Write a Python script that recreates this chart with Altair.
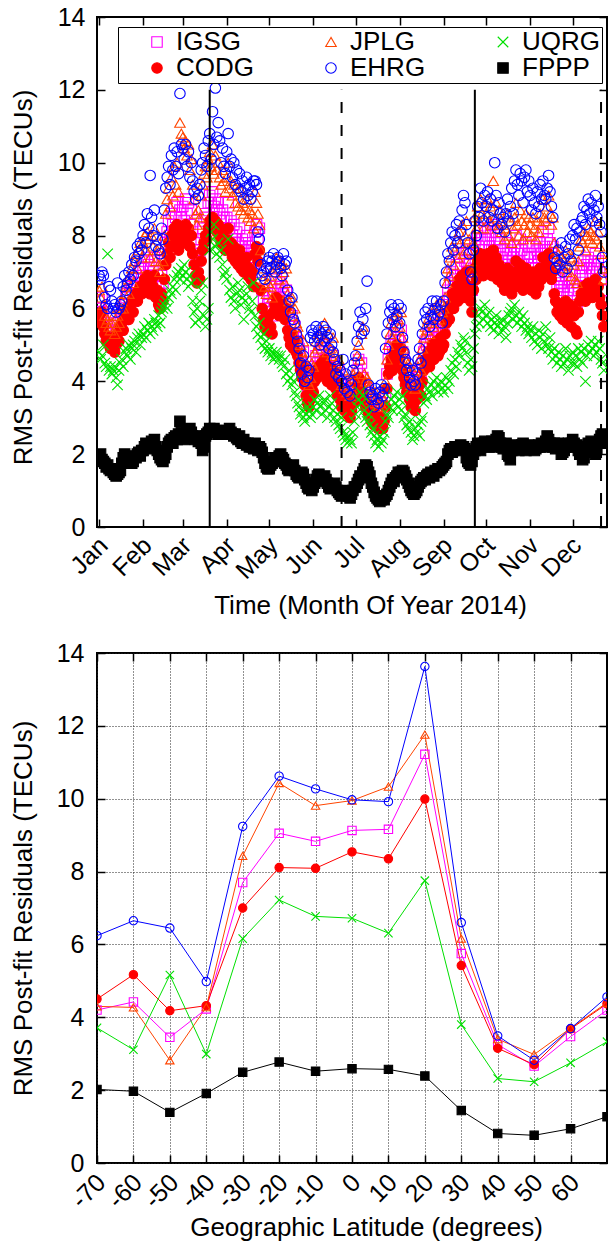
import altair as alt
import pandas as pd

FONT = "Liberation Sans"

# ---------------- top panel: daily RMS post-fit residuals, 2014 ----------------
month_names = ["Jan", "Feb", "Mar", "Apr", "May", "Jun", "Jul", "Aug", "Sep", "Oct", "Nov", "Dec"]
month_start = [0, 31, 59, 90, 120, 151, 181, 212, 243, 273, 304, 334]
equinox_days = [78, 265]
solstice_days = [171, 354]

igsg = [
    6.2,6.0,6.3,5.9,5.6,5.4,5.5,5.3,5.2,5.4,5.6,5.1,5.3,5.6,5.4,5.8,5.9,5.7,6.1,6.3,6.4,6.0,6.5,6.6,6.2,6.7,6.9,6.6,7.0,7.1,6.8,
    7.1,7.3,6.9,7.4,7.2,6.8,7.3,7.0,7.4,6.7,6.9,6.6,6.4,6.9,6.7,7.3,7.8,8.1,8.4,8.0,8.6,8.3,8.8,8.5,8.9,8.2,8.7,8.5,
    8.8,8.4,9.0,8.6,8.9,8.3,8.7,8.1,7.8,7.5,7.3,7.6,7.4,7.9,8.2,8.4,8.6,8.5,8.9,9.1,8.9,9.2,8.8,9.0,8.7,8.9,8.6,8.4,8.7,8.5,8.2,
    8.5,8.9,8.2,8.4,8.0,8.3,7.9,8.1,7.8,8.2,7.7,7.9,7.6,7.8,8.0,7.5,7.7,7.4,7.6,7.2,8.1,8.3,7.9,8.2,7.0,6.5,6.2,6.0,5.9,6.1,
    6.3,6.0,5.8,6.4,6.6,6.8,6.5,6.3,6.7,6.6,6.4,6.2,6.5,5.9,5.7,5.5,5.8,5.3,5.5,5.2,5.1,4.9,4.7,4.5,4.8,4.3,4.0,3.8,3.7,3.9,4.2,
    4.1,4.4,4.7,4.5,4.8,4.6,4.9,4.7,5.0,4.6,4.4,4.8,4.5,4.3,4.7,4.4,4.2,4.0,4.3,3.9,3.7,4.0,3.6,3.8,3.5,3.7,3.4,3.6,3.9,3.8,
    4.0,4.3,4.6,4.2,4.5,4.1,3.9,3.7,3.8,3.5,3.6,3.3,3.4,3.2,3.5,3.3,3.1,3.2,3.4,3.1,3.3,3.7,4.2,4.6,4.9,5.1,4.8,5.3,5.0,5.5,5.2,
    5.1,5.4,4.8,4.6,4.3,4.1,4.2,3.9,3.7,4.0,3.8,3.6,3.9,4.1,4.3,4.0,4.5,4.8,5.1,5.0,5.3,4.9,5.2,5.5,5.1,5.4,5.6,5.2,5.3,5.7,5.4,
    5.5,5.8,6.1,6.5,6.3,6.7,7.0,6.6,6.9,7.2,6.8,7.4,7.1,7.5,6.9,7.3,7.6,7.0,7.2,6.8,6.5,7.1,7.8,7.5,8.0,7.7,8.2,7.9,7.6,8.1,
    7.9,8.2,7.7,8.0,7.6,8.3,7.8,8.1,7.5,7.9,7.7,7.4,7.6,7.2,7.5,7.8,7.3,7.6,7.1,7.4,7.7,8.0,7.5,7.3,7.9,7.6,7.2,7.5,7.8,7.4,7.7,
    7.5,7.2,7.7,7.4,7.1,7.6,7.3,7.8,7.5,8.1,7.7,7.6,7.9,8.2,7.8,7.5,7.7,7.1,6.9,6.6,6.8,6.5,6.7,6.4,6.6,6.9,6.3,6.5,6.8,6.2,
    6.7,6.5,6.1,6.0,6.6,6.9,7.1,7.0,7.3,6.9,7.2,7.4,7.1,7.3,7.0,7.2,7.5,7.1,7.3,7.0,6.8,6.5,6.2,6.4,5.9,6.1,6.3,5.8,6.0,6.2,5.9,
]
codg = [
    5.8,5.6,5.9,5.5,5.3,5.1,5.2,5.0,4.9,5.1,5.2,4.8,5.0,5.3,5.1,5.5,5.6,5.4,5.8,5.9,6.0,5.7,6.1,6.2,5.9,6.3,6.4,6.2,6.5,6.6,6.4,
    6.6,6.8,6.5,6.9,6.7,6.4,6.8,6.6,6.9,6.3,6.5,6.1,6.0,6.4,6.2,6.8,7.2,7.5,7.8,7.4,8.0,7.7,8.2,7.9,8.3,7.6,8.0,7.8,
    8.1,7.8,8.3,7.9,8.2,7.7,8.0,7.5,7.2,6.9,6.7,7.0,6.8,7.3,7.6,7.8,8.0,7.9,8.2,8.4,8.3,8.5,8.2,8.4,8.1,8.3,8.0,7.8,8.1,7.9,7.6,
    7.9,8.2,7.6,7.8,7.4,7.7,7.3,7.5,7.2,7.6,7.1,7.3,7.0,7.2,7.4,6.9,7.1,6.8,7.0,6.6,7.5,7.7,7.3,7.6,6.5,6.0,5.7,5.5,5.4,5.6,
    5.8,5.5,5.3,5.9,6.1,6.3,6.0,5.8,6.2,6.1,5.9,5.7,6.0,5.4,5.2,5.0,5.3,4.9,5.1,4.8,4.7,4.5,4.3,4.1,4.4,3.9,3.6,3.4,3.3,3.5,3.8,
    3.7,4.0,4.3,4.1,4.4,4.2,4.5,4.3,4.6,4.2,4.0,4.4,4.1,3.9,4.3,4.0,3.8,3.6,3.9,3.5,3.3,3.6,3.2,3.4,3.1,3.3,3.0,3.2,3.5,3.4,
    3.6,3.9,4.1,3.8,4.0,3.7,3.5,3.3,3.4,3.1,3.2,2.9,3.0,2.8,3.1,2.9,2.7,2.8,3.0,2.7,2.9,3.3,3.8,4.2,4.4,4.6,4.3,4.8,4.5,5.0,4.7,
    4.6,4.9,4.3,4.1,3.9,3.7,3.8,3.5,3.3,3.6,3.4,3.2,3.5,3.7,3.9,3.6,4.0,4.3,4.6,4.5,4.8,4.4,4.7,5.0,4.6,4.9,5.1,4.7,4.8,5.2,4.9,
    5.0,5.3,5.6,5.9,5.7,6.1,6.4,6.0,6.3,6.6,6.2,6.8,6.5,6.9,6.3,6.7,7.0,6.4,6.6,6.2,5.9,6.5,7.1,6.8,7.3,7.0,7.5,7.2,6.9,7.4,
    7.2,7.5,7.0,7.3,6.9,7.6,7.1,7.4,6.8,7.2,7.0,6.7,6.9,6.5,6.8,7.1,6.6,6.9,6.4,6.7,7.0,7.3,6.8,6.6,7.2,6.9,6.5,6.8,7.1,6.7,7.0,
    6.8,6.5,7.0,6.7,6.4,6.9,6.6,7.1,6.8,7.4,7.0,6.9,7.2,7.5,7.1,6.8,7.0,6.4,6.2,5.9,6.1,5.8,6.0,5.7,5.9,6.2,5.6,5.8,6.1,5.5,
    6.0,5.8,5.4,5.3,5.9,6.2,6.4,6.3,6.6,6.2,6.5,6.7,6.4,6.6,6.3,6.5,6.8,6.4,6.6,6.3,6.1,5.8,5.5,5.7,5.2,5.4,5.6,5.1,5.3,5.5,5.2,
]
jplg = [
    6.5,6.3,6.6,6.1,5.8,5.6,5.7,5.5,5.4,5.6,5.8,5.3,5.5,5.8,5.6,6.0,6.2,6.0,6.4,6.6,6.8,6.4,6.9,7.1,6.7,7.3,7.5,7.1,7.6,7.8,7.4,
    7.8,8.0,7.6,8.1,7.9,7.4,8.0,7.7,8.2,7.3,7.6,7.2,7.0,7.6,7.3,8.0,8.6,9.0,9.3,8.8,9.6,9.1,9.9,9.4,10.0,9.2,11.1,10.8,
    10.7,10.4,10.6,10.2,10.5,9.8,10.1,9.4,9.0,8.6,8.3,8.7,8.5,9.1,9.4,9.7,9.9,9.6,10.1,10.3,9.9,10.5,9.7,10.2,9.8,10.0,9.6,9.4,9.8,9.5,9.2,
    9.6,10.0,9.3,9.5,9.1,9.4,8.9,9.2,8.8,9.3,8.7,8.9,8.6,8.8,9.0,8.5,8.7,8.4,8.6,8.2,9.2,8.9,8.6,8.3,7.6,7.1,6.8,6.6,6.4,6.7,
    6.9,6.6,6.3,7.0,7.2,7.4,7.1,6.8,7.3,7.2,7.0,6.7,7.1,6.4,6.2,6.0,6.3,5.8,6.0,5.6,5.5,5.3,5.0,4.8,5.1,4.6,4.2,4.0,3.9,4.1,4.5,
    4.4,4.8,5.1,4.9,5.3,5.0,5.4,5.2,5.6,5.1,4.8,5.3,4.9,4.7,5.2,4.8,4.5,4.3,4.6,4.2,3.9,4.3,3.8,4.0,3.7,3.9,3.6,3.8,4.2,4.1,
    4.3,4.7,5.0,4.6,5.3,5.5,4.2,4.0,4.1,3.8,3.9,3.5,3.6,3.4,3.7,3.5,3.3,3.4,3.6,3.3,3.5,4.0,4.6,5.0,5.3,5.6,5.2,5.8,5.4,5.9,5.7,
    5.5,5.9,5.2,4.9,4.6,4.4,4.5,4.2,3.9,4.3,4.0,3.8,4.1,4.4,4.6,4.3,4.9,5.2,5.5,5.4,5.7,5.3,5.6,6.0,5.5,5.8,6.1,5.6,5.7,6.2,5.9,
    6.0,6.3,6.7,7.1,6.9,7.4,7.7,7.2,7.6,7.9,7.4,8.1,7.8,8.3,7.5,8.0,8.4,7.6,7.9,7.3,7.0,7.8,8.5,8.2,8.8,8.4,9.0,8.6,8.2,8.9,
    8.6,9.0,8.4,8.8,8.3,9.5,8.5,8.9,8.2,8.7,8.4,8.1,8.3,7.9,8.2,8.6,8.0,8.4,7.8,8.2,8.5,8.9,8.3,8.0,8.7,8.4,7.9,8.3,8.6,8.1,8.5,
    8.3,8.0,8.5,8.2,7.9,8.4,8.1,8.6,8.3,9.0,8.5,8.4,8.8,9.1,8.6,8.3,8.5,7.8,7.6,7.3,7.5,7.2,7.4,7.1,7.3,7.6,7.0,7.2,7.5,6.9,
    7.4,7.2,6.8,6.7,7.3,7.7,7.9,7.8,8.1,7.6,8.0,8.2,7.9,8.1,7.8,8.0,8.4,7.9,8.1,7.7,7.5,7.1,6.8,7.0,6.5,6.7,6.9,6.3,6.6,6.8,6.5,
]
ehrg = [
    6.9,6.8,7.0,6.9,6.3,6.1,6.0,6.6,6.5,6.2,6.0,6.1,5.9,6.7,6.0,6.1,6.2,6.6,6.9,6.5,6.7,7.0,6.8,7.2,6.9,7.4,7.3,7.7,7.5,7.8,7.6,
    8.0,8.3,7.8,8.6,8.2,9.65,8.5,8.0,8.7,7.7,7.9,7.6,7.5,8.2,7.9,8.7,9.3,9.6,9.9,9.4,10.2,9.8,10.4,9.9,10.3,9.7,11.9,10.5,
    10.4,10.1,10.5,9.9,10.3,9.6,10.0,9.5,9.2,9.0,9.3,9.1,9.4,9.8,10.0,10.4,10.2,9.9,10.6,10.8,10.1,11.4,10.5,12.05,10.7,11.1,10.6,10.0,10.4,9.9,9.7,
    10.3,10.8,9.9,10.1,9.6,10.0,9.4,9.8,9.3,9.7,9.2,9.5,9.0,9.3,9.6,9.1,9.4,9.0,9.2,9.5,9.5,9.4,8.1,7.9,7.2,6.9,7.0,6.8,7.1,7.3,
    7.4,7.1,7.3,7.5,7.0,7.2,7.4,7.3,7.1,6.9,7.5,7.2,7.3,6.5,6.2,5.9,6.3,5.7,5.6,5.3,5.1,4.9,4.5,4.2,4.7,4.0,4.4,4.1,4.3,5.2,5.4,
    5.3,5.1,5.5,5.2,5.4,5.0,5.3,5.5,5.1,5.4,5.2,4.9,5.3,5.0,4.8,4.6,4.2,4.4,4.1,4.3,4.0,4.6,3.8,4.2,3.7,4.0,3.6,3.9,4.3,4.5,
    4.7,5.1,5.5,5.9,5.3,5.7,5.4,6.0,6.75,3.9,3.7,3.5,3.6,3.3,3.8,3.5,3.4,3.7,3.9,3.6,3.8,4.9,5.3,5.6,5.9,6.1,5.7,6.0,5.5,5.8,6.1,
    5.6,6.0,5.2,4.8,4.6,4.3,4.5,4.1,3.9,4.3,4.0,3.9,4.2,4.6,4.9,4.5,5.3,5.6,5.9,5.7,6.0,5.5,5.8,6.2,5.7,6.0,6.2,5.8,5.9,6.1,5.6,
    6.2,6.7,7.0,7.5,7.3,7.8,8.1,7.6,8.0,8.3,7.8,8.4,8.1,8.7,9.1,8.9,8.3,7.8,7.5,7.0,6.8,7.6,8.4,8.0,8.8,8.5,9.3,8.9,8.4,9.1,
    8.8,9.2,8.5,9.0,8.4,8.7,10.0,9.1,8.2,8.9,8.6,8.3,8.5,8.1,8.6,9.0,8.4,8.8,9.3,8.6,9.5,9.8,9.4,9.1,9.7,9.5,8.9,9.6,9.8,9.2,9.5,
    9.1,8.7,9.3,8.9,8.6,9.2,8.8,9.4,9.0,9.5,9.1,9.0,9.3,9.65,9.2,8.8,8.5,7.4,7.1,7.3,7.6,7.2,7.8,7.0,7.4,7.7,7.1,7.5,7.9,7.3,
    8.0,8.3,7.9,8.2,7.6,8.1,8.4,8.5,8.8,8.3,8.7,9.0,8.6,8.9,8.4,8.7,9.1,8.5,8.8,8.3,8.1,7.4,7.0,7.2,6.6,6.9,7.3,6.4,6.8,7.1,6.5,
]
uqrg = [
    4.8,4.6,4.7,5.0,4.5,4.4,7.5,4.3,4.4,4.2,4.3,4.4,4.1,3.9,4.3,4.5,4.6,4.4,4.8,4.9,4.7,5.0,4.6,4.9,5.0,5.1,4.8,5.2,5.3,5.0,5.2,
    5.3,5.5,5.2,5.4,5.6,5.3,5.5,5.4,5.7,5.6,5.5,5.8,5.6,5.9,6.0,6.1,6.2,6.0,6.3,6.5,6.4,6.6,6.8,6.5,6.9,7.0,6.8,7.1,
    6.9,7.2,7.0,6.8,6.6,6.9,6.7,6.2,5.9,5.6,6.0,5.7,6.2,6.5,6.7,5.8,5.5,5.7,6.0,7.6,8.1,7.9,8.3,7.7,7.5,7.8,7.4,7.6,7.2,6.9,7.0,
    6.8,7.9,6.5,6.3,6.6,6.2,6.0,6.4,6.7,6.5,6.1,6.3,5.7,6.2,6.4,6.6,6.0,5.9,6.2,6.7,5.8,5.5,5.3,5.6,5.2,5.0,5.3,4.9,5.1,4.8,
    4.9,4.7,4.8,4.6,4.7,4.8,4.7,4.6,4.7,4.5,4.4,4.6,4.2,4.0,4.3,4.1,3.9,4.0,3.7,3.6,3.4,3.3,3.1,3.2,3.0,2.9,3.1,3.3,3.2,3.0,3.1,
    3.3,3.5,3.2,3.4,3.6,3.3,3.1,3.4,3.5,3.2,3.0,3.3,3.6,3.4,3.2,3.0,2.9,3.1,2.8,2.7,3.0,2.6,2.5,2.4,2.3,2.5,2.4,2.3,2.6,2.9,
    3.1,3.3,3.5,3.7,3.4,3.6,3.2,3.0,2.9,3.1,2.8,2.6,2.7,2.5,2.3,2.4,2.2,2.5,2.3,2.4,2.6,2.9,3.1,3.0,3.3,3.5,3.2,3.6,3.4,3.7,3.3,
    3.5,3.2,3.6,3.0,3.1,2.8,2.7,2.9,2.6,2.4,2.5,2.7,2.6,2.8,2.5,2.9,3.0,3.4,3.6,3.5,3.8,3.7,3.9,3.6,4.0,3.8,4.1,3.7,3.9,4.0,3.8,
    3.7,3.9,4.1,3.8,4.0,4.3,4.5,4.2,4.6,4.4,4.8,4.7,5.0,4.9,5.2,5.1,4.8,4.5,4.3,4.6,4.4,4.9,5.3,5.5,5.8,5.6,6.0,5.9,5.7,6.1,
    5.8,5.6,5.9,5.5,5.7,5.4,5.6,5.8,5.5,5.3,5.6,5.7,5.4,5.5,5.2,5.6,5.8,5.9,6.0,5.7,6.1,5.8,5.6,5.9,5.7,5.5,5.8,5.6,5.4,5.5,5.3,
    5.4,5.2,5.5,5.1,5.3,5.0,5.4,5.2,4.9,5.3,5.1,5.5,5.0,4.9,5.2,4.8,4.6,4.9,4.7,4.5,4.8,4.6,4.4,4.7,4.5,4.9,4.6,4.3,4.7,4.5,
    4.8,4.5,4.7,4.4,4.9,4.6,4.8,4.5,4.9,4.0,4.7,5.0,4.8,5.1,4.9,4.7,5.0,4.8,5.1,4.9,4.6,4.5,4.3,4.2,4.4,4.1,4.3,4.5,4.2,4.4,4.3,
]
fppp = [
    1.9,2.0,1.85,1.8,1.75,1.65,1.7,1.6,1.55,1.6,1.5,1.45,1.4,1.45,1.5,1.55,1.75,1.9,2.0,1.85,1.8,1.9,1.85,1.75,1.8,1.95,1.9,2.0,2.05,1.95,2.1,
    2.1,2.2,2.3,2.15,2.2,2.25,2.35,2.3,2.4,2.2,2.1,2.0,1.9,1.85,1.8,1.9,2.0,2.2,2.3,2.35,2.4,2.3,2.45,2.5,2.4,2.55,2.9,2.6,
    2.5,2.4,2.45,2.6,2.55,2.7,2.6,2.5,2.45,2.4,2.5,2.35,2.4,2.3,2.1,2.2,2.5,2.55,2.6,2.7,2.65,2.6,2.7,2.65,2.6,2.55,2.6,2.65,2.6,2.6,2.55,
    2.65,2.6,2.7,2.6,2.55,2.5,2.55,2.45,2.4,2.5,2.35,2.3,2.4,2.3,2.25,2.3,2.2,2.25,2.2,2.15,2.3,2.2,2.1,2.2,2.15,2.05,1.9,1.75,1.65,1.6,
    1.6,1.7,1.75,1.8,1.9,1.85,1.8,1.95,2.0,1.9,1.85,1.75,1.7,1.6,1.55,1.6,1.65,1.7,1.55,1.45,1.4,1.35,1.4,1.5,1.45,1.3,1.2,1.1,1.05,1.1,1.0,
    1.1,1.2,1.3,1.4,1.45,1.35,1.3,1.25,1.4,1.3,1.2,1.1,1.05,1.1,1.15,1.2,1.1,1.0,0.95,0.9,0.85,0.9,0.95,1.0,0.9,0.85,0.8,0.9,1.0,1.1,
    1.1,1.2,1.3,1.4,1.35,1.5,1.6,1.7,1.65,1.5,1.4,1.2,1.1,0.95,0.85,0.8,0.75,0.7,0.75,0.8,0.75,0.85,0.9,1.0,1.1,1.2,1.3,1.25,1.35,1.4,1.5,
    1.45,1.5,1.55,1.5,1.4,1.3,1.2,1.1,1.0,0.95,0.9,0.95,1.0,1.1,1.2,1.25,1.3,1.35,1.3,1.4,1.45,1.35,1.5,1.45,1.4,1.55,1.5,1.6,1.55,1.6,1.65,
    1.7,1.75,1.8,2.0,2.1,2.15,2.05,2.1,2.2,2.15,2.1,2.2,2.25,2.2,2.2,2.15,1.9,1.8,1.75,1.7,1.8,2.0,2.1,2.2,2.3,2.2,2.1,2.2,2.3,2.35,
    2.3,2.25,2.2,2.3,2.35,2.2,2.3,2.4,2.5,2.45,2.3,2.2,2.15,2.2,2.3,2.0,1.95,1.85,2.1,2.2,2.25,2.2,2.15,2.1,2.2,2.25,2.3,2.2,2.1,2.2,2.25,
    2.2,2.15,2.2,2.1,2.15,2.2,2.25,2.2,2.3,2.25,2.2,2.35,2.5,2.4,2.3,2.25,2.2,2.3,2.15,2.2,2.3,2.2,2.0,2.05,2.1,2.2,2.25,2.3,2.2,2.3,
    2.4,2.3,2.2,2.25,2.1,2.0,2.15,1.85,1.9,2.05,2.2,2.3,2.25,2.35,2.2,2.1,2.0,2.15,2.3,2.4,2.5,2.55,2.3,2.2,2.0,1.8,1.75,1.9,2.0,2.1,2.2,
]

# ---------------- bottom panel: RMS by geographic latitude ----------------
lats = [-70, -60, -50, -40, -30, -20, -10, 0, 10, 20, 30, 40, 50, 60, 70]
lat_ticks = [-70, -60, -50, -40, -30, -20, -10, 0, 10, 20, 30, 40, 50, 60]
igsg_lat = [4.2, 4.42, 3.45, 4.23, 7.7, 9.05, 8.83, 9.13, 9.16, 11.22, 5.75, 3.25, 2.66, 3.47, 4.2]
codg_lat = [4.5, 5.17, 4.18, 4.32, 7.0, 8.11, 8.09, 8.54, 8.35, 9.99, 5.42, 3.15, 2.7, 3.68, 4.37]
jplg_lat = [4.3, 4.27, 2.82, 4.28, 8.43, 10.43, 9.81, 9.95, 10.33, 11.76, 6.16, 3.4, 2.98, 3.7, 4.4]
ehrg_lat = [6.24, 6.65, 6.45, 4.98, 9.24, 10.62, 10.27, 9.97, 9.92, 13.63, 6.6, 3.49, 2.82, 3.69, 4.56]
uqrg_lat = [3.71, 3.11, 5.16, 2.99, 6.16, 7.22, 6.77, 6.72, 6.31, 7.75, 3.8, 2.32, 2.23, 2.75, 3.33]
fppp_lat = [2.02, 1.97, 1.39, 1.91, 2.49, 2.77, 2.52, 2.59, 2.57, 2.39, 1.44, 0.81, 0.76, 0.94, 1.27]

series_names = ["IGSG", "CODG", "JPLG", "EHRG", "UQRG", "FPPP"]
series_colors = ["#FF00FF", "#FF0000", "#FF4500", "#0000FF", "#00E000", "#000000"]
series_fills = ["transparent", "#FF0000", "transparent", "transparent", "transparent", "#000000"]
series_shapes = ["square", "circle", "triangle-up", "circle", "M-1,-1L1,1M-1,1L1,-1", "square"]
y_ticks = [0, 2, 4, 6, 8, 10, 12, 14]

top_rows = []
for name, vals in zip(series_names, [igsg, codg, jplg, ehrg, uqrg, fppp]):
    for i, v in enumerate(vals):
        top_rows.append({"day": i, "rms": v, "series": name})
df_top = pd.DataFrame(top_rows)

lat_rows = []
for name, vals in zip(series_names, [igsg_lat, codg_lat, jplg_lat, ehrg_lat, uqrg_lat, fppp_lat]):
    for la, v in zip(lats, vals):
        lat_rows.append({"lat": la, "rms": v, "series": name})
df_lat = pd.DataFrame(lat_rows)

shape_sc = alt.Scale(domain=series_names, range=series_shapes)
stroke_sc = alt.Scale(domain=series_names, range=series_colors)
fill_sc = alt.Scale(domain=series_names, range=series_fills)
y_sc = alt.Scale(domain=[0, 14], nice=False, zero=True)

H = 510
W_TOP = 510
W_BOT = 510
TICK = 8
NBSP = "\u00a0"
X_END_DAY = 358.2          # right edge of the visible time window (px per day as in the original)
LAST_SHOWN_DAY = 356       # the days after this fall at / beyond the cropped right edge

df_top_vis = df_top[df_top.day <= LAST_SHOWN_DAY]


def tick_layers(data, xfield, x_sc, xvals, w):
    """Invisible layers that only carry inward-pointing tick marks on all four sides."""
    def ax(orient, off, vals):
        return alt.Axis(orient=orient, offset=off, values=vals, labels=False, domain=False,
                        grid=False, ticks=True, tickSize=TICK, tickWidth=1.5,
                        tickColor="black", title=None)
    l1 = alt.Chart(data).mark_point(opacity=0).encode(
        x=alt.X(xfield, scale=x_sc, axis=ax("top", -H, xvals)),
        y=alt.Y("rms:Q", scale=y_sc, axis=ax("right", -w, y_ticks)),
    )
    l2 = alt.Chart(data).mark_point(opacity=0).encode(
        x=alt.X(xfield, scale=x_sc, axis=ax("bottom", -H, xvals)),
        y=alt.Y("rms:Q", scale=y_sc, axis=ax("left", -w, y_ticks)),
    )
    return [l1, l2]


# ---------- top ----------
x_top = alt.Scale(domain=[-1.5, X_END_DAY], nice=False, zero=False)
month_expr = f"{month_names}[indexof({month_start}, datum.value)]"
last_col = series_names[4:]
legend_label_expr = (f"datum.label + (indexof({last_col}, datum.label) >= 0 ? '"
                     + NBSP * 6 + "' : '')")

leg = alt.Legend(
    title=None, orient="none", legendX=21, legendY=10, direction="vertical", columns=3,
    columnPadding=40, rowPadding=0, padding=2, strokeColor="black", fillColor="white",
    labelFont=FONT, labelFontSize=26, labelColor="black", labelAlign="left", labelOffset=6,
    labelExpr=legend_label_expr,
    symbolOffset=24, symbolSize=110, symbolStrokeWidth=1.1, cornerRadius=0,
)

top_points = alt.Chart(df_top_vis).mark_point(size=110, strokeWidth=1.1, opacity=1, clip=True).encode(
    x=alt.X("day:Q", scale=x_top, axis=alt.Axis(
        orient="bottom", values=month_start, labelExpr=month_expr, labelAngle=315,
        labelAlign="right", labelBaseline="middle", labelPadding=14, labelOffset=4,
        ticks=False, tickSize=0, domain=False, grid=False, labelFlush=False, labelOverlap=False,
        title="Time (Month Of Year 2014)", titleX=273, titleY=86, titleBaseline="alphabetic",
        titleAlign="center")),
    y=alt.Y("rms:Q", scale=y_sc, axis=alt.Axis(
        orient="left", values=y_ticks, ticks=False, tickSize=0, domain=False, grid=False,
        labelPadding=12, labelFlush=False, labelOverlap=False,
        title="RMS Post-fit Residuals (TECUs)", titleAngle=270, titleX=-66, titleY=260,
        titleBaseline="alphabetic", titleAlign="center")),
    shape=alt.Shape("series:N", scale=shape_sc, legend=leg),
    stroke=alt.Stroke("series:N", scale=stroke_sc, legend=leg),
    fill=alt.Fill("series:N", scale=fill_sc, legend=leg),
)

eq_rules = alt.Chart(pd.DataFrame({"day": equinox_days})).mark_rule(color="black", strokeWidth=2).encode(
    x=alt.X("day:Q", scale=x_top, axis=None),
    y=alt.YDatum(0, axis=None), y2=alt.Y2Datum(12),
)
sol_rules = alt.Chart(pd.DataFrame({"day": solstice_days})).mark_rule(
    color="black", strokeWidth=2, strokeDash=[11, 12]).encode(
    x=alt.X("day:Q", scale=x_top, axis=None),
    y=alt.YDatum(0, axis=None), y2=alt.Y2Datum(12),
)

top = alt.layer(
    top_points, eq_rules, sol_rules,
    *tick_layers(df_top_vis[df_top_vis.series == "FPPP"], "day:Q", x_top, month_start, W_TOP),
).resolve_axis(x="independent", y="independent").properties(width=W_TOP, height=H)

# ---------- bottom ----------
x_lat = alt.Scale(domain=[lats[0], lats[-1]], nice=False, zero=False)

lat_lines = alt.Chart(df_lat).mark_line(strokeWidth=1, clip=True).encode(
    x=alt.X("lat:Q", scale=x_lat, axis=alt.Axis(
        orient="bottom", values=lat_ticks, labelExpr="'' + datum.value", labelAngle=315,
        labelAlign="right", labelBaseline="middle", labelPadding=15, labelOffset=4,
        ticks=False, tickSize=0, domain=False, grid=True, gridDash=[1, 2], gridColor="#222222",
        gridWidth=1, labelFlush=False, labelOverlap=False,
        title="Geographic Latitude (degrees)", titleX=269, titleY=72, titleBaseline="alphabetic",
        titleAlign="center")),
    y=alt.Y("rms:Q", scale=y_sc, axis=alt.Axis(
        orient="left", values=y_ticks, ticks=False, tickSize=0, domain=False, grid=True,
        gridDash=[1, 2], gridColor="#222222", gridWidth=1,
        labelPadding=13, labelFlush=False, labelOverlap=False,
        title="RMS Post-fit Residuals (TECUs)", titleAngle=270, titleX=-66, titleY=255,
        titleBaseline="alphabetic", titleAlign="center")),
    stroke=alt.Stroke("series:N", scale=stroke_sc, legend=None),
    detail="series:N",
)
lat_points = alt.Chart(df_lat).mark_point(size=70, strokeWidth=1.1, opacity=1, clip=True).encode(
    x=alt.X("lat:Q", scale=x_lat, axis=None),
    y=alt.Y("rms:Q", scale=y_sc, axis=None),
    shape=alt.Shape("series:N", scale=shape_sc, legend=None),
    stroke=alt.Stroke("series:N", scale=stroke_sc, legend=None),
    fill=alt.Fill("series:N", scale=fill_sc, legend=None),
)

bottom = alt.layer(
    lat_lines, lat_points,
    *tick_layers(df_lat[df_lat.series == "FPPP"], "lat:Q", x_lat, lat_ticks, W_BOT),
).resolve_axis(x="independent", y="independent").properties(width=W_BOT, height=H)

chart = alt.vconcat(top, bottom, spacing=21).resolve_scale(
    shape="independent", stroke="independent", fill="independent"
).properties(
    padding={"left": 8, "top": 4, "right": 0, "bottom": 0}
).configure_view(
    stroke="black", strokeWidth=2
).configure_axis(
    labelFont=FONT, titleFont=FONT, labelColor="black", titleColor="black",
    titleFontWeight="normal", labelFontSize=25, titleFontSize=26,
)

chart.save("out.html", embed_options={"renderer": "svg", "actions": False})
